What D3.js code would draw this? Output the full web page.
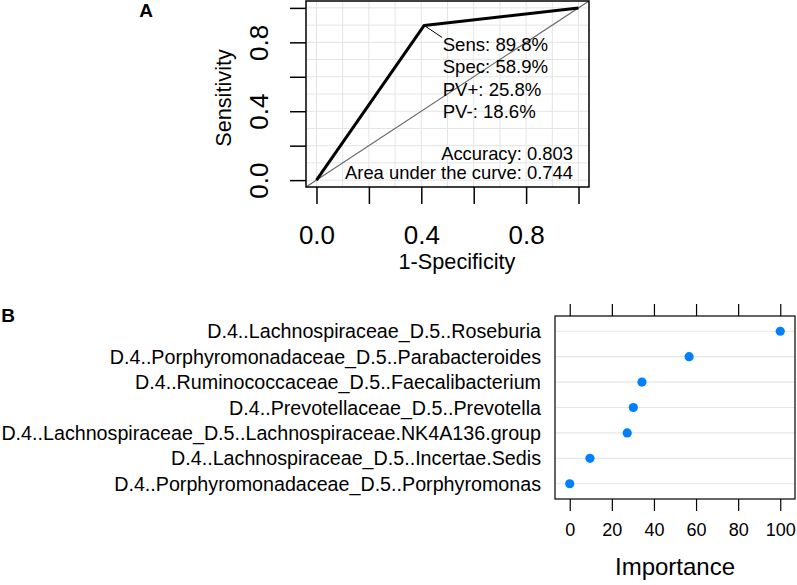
<!doctype html>
<html>
  <head>
    <meta charset="utf-8"/>
    <title>ROC and variable importance</title>
    <style>
      body, html {
        font-family: "Liberation Sans", Arial, sans-serif;
        padding: 0;
        margin: 0;
        background: white;
      }
      svg { display: block; }
      text { font-family: "Liberation Sans", Arial, sans-serif; fill: black; }
    </style>
    <script src="https://d3js.org/d3.v7.min.js"></script>
  </head>
  <body>
    <svg id="chart" width="797" height="585"></svg>

    <script>
      // ROC curve (panel A)
      var rocFpr = [0, 0.411, 1];
      var rocTpr = [0, 0.898, 1];
      var rocTicks = [0, 0.2, 0.4, 0.6, 0.8, 1.0];
      var rocTickLabels = [0, 0.4, 0.8];
      var rocGrid = [0, 0.1, 0.2, 0.3, 0.4, 0.5, 0.6, 0.7, 0.8, 0.9, 1.0];
      var rocStats = ["Sens: 89.8%", "Spec: 58.9%", "PV+: 25.8%", "PV-: 18.6%"];
      var rocSummary = ["Accuracy: 0.803", "Area under the curve: 0.744"];

      // variable importance (panel B)
      var features = [
        "D.4..Lachnospiraceae_D.5..Roseburia",
        "D.4..Porphyromonadaceae_D.5..Parabacteroides",
        "D.4..Ruminococcaceae_D.5..Faecalibacterium",
        "D.4..Prevotellaceae_D.5..Prevotella",
        "D.4..Lachnospiraceae_D.5..Lachnospiraceae.NK4A136.group",
        "D.4..Lachnospiraceae_D.5..Incertae.Sedis",
        "D.4..Porphyromonadaceae_D.5..Porphyromonas"
      ];
      var importance = [100, 56.7, 34.3, 30.2, 27.3, 9.6, 0];
      var impTicks = [0, 20, 40, 60, 80, 100];

      var svg = d3.select("#chart");

      // ---------- panel A ----------
      var x = d3.scaleLinear().domain([-0.04, 1.04]).range([306, 589]);
      var y = d3.scaleLinear().domain([-0.04, 1.04]).range([187, 1]);

      var a = svg.append("g");

      a.selectAll(".vgrid").data(rocGrid).enter().append("line")
        .attr("x1", function(d) { return x(d); })
        .attr("x2", function(d) { return x(d); })
        .attr("y1", y.range()[0]).attr("y2", y.range()[1])
        .attr("stroke", "#e4e4e4").attr("stroke-width", 1);
      a.selectAll(".hgrid").data(rocGrid).enter().append("line")
        .attr("y1", function(d) { return y(d); })
        .attr("y2", function(d) { return y(d); })
        .attr("x1", x.range()[0]).attr("x2", x.range()[1])
        .attr("stroke", "#e4e4e4").attr("stroke-width", 1);

      // chance diagonal
      a.append("line")
        .attr("x1", x(-0.04)).attr("y1", y(-0.04))
        .attr("x2", x(1.04)).attr("y2", y(1.04))
        .attr("stroke", "#666").attr("stroke-width", 1.1);

      var line = d3.line()
        .x(function(d, i) { return x(rocFpr[i]); })
        .y(function(d, i) { return y(rocTpr[i]); });
      a.append("path")
        .datum(rocFpr)
        .attr("d", line)
        .attr("fill", "none")
        .attr("stroke", "black")
        .attr("stroke-width", 3)
        .attr("stroke-linejoin", "round");

      // pointer to the cut-off
      a.append("line")
        .attr("x1", x(rocFpr[1])).attr("y1", y(rocTpr[1]))
        .attr("x2", x(rocFpr[1]) + 18).attr("y2", y(rocTpr[1]) + 12)
        .attr("stroke", "black").attr("stroke-width", 1);

      a.selectAll(".stat").data(rocStats).enter().append("text")
        .attr("x", x(rocFpr[1]) + 18.5)
        .attr("y", function(d, i) { return 51 + i * 22.4; })
        .style("font-size", "18.6px")
        .text(function(d) { return d; });

      a.selectAll(".sum").data(rocSummary).enter().append("text")
        .attr("x", 573)
        .attr("y", function(d, i) { return 160 + i * 19; })
        .attr("text-anchor", "end")
        .style("font-size", "18.4px")
        .text(function(d) { return d; });

      a.append("rect")
        .attr("x", x.range()[0]).attr("y", y.range()[1])
        .attr("width", x.range()[1] - x.range()[0])
        .attr("height", y.range()[0] - y.range()[1])
        .attr("fill", "none").attr("stroke", "black").attr("stroke-width", 1.5);

      var xAxis = d3.axisBottom(x).tickValues(rocTicks).tickSize(17).tickSizeOuter(0)
        .tickFormat(function(d) { return rocTickLabels.indexOf(d) >= 0 ? d3.format(".1f")(d) : ""; });
      var gx = a.append("g").attr("transform", "translate(0," + y.range()[0] + ")").call(xAxis);
      gx.select(".domain").remove();
      gx.selectAll(".tick line").attr("stroke", "black").attr("stroke-width", 1.5);
      gx.selectAll(".tick text").attr("y", 57).attr("dy", 0)
        .style("font-size", "26px").style("font-family", "Liberation Sans");

      var yAxis = d3.axisLeft(y).tickValues(rocTicks).tickSize(16).tickSizeOuter(0)
        .tickFormat(function(d) { return rocTickLabels.indexOf(d) >= 0 ? d3.format(".1f")(d) : ""; });
      var gy = a.append("g").attr("transform", "translate(" + x.range()[0] + ",0)").call(yAxis);
      gy.select(".domain").remove();
      gy.selectAll(".tick line").attr("stroke", "black").attr("stroke-width", 1.5);
      gy.selectAll(".tick text")
        .attr("x", 0).attr("dy", 0)
        .attr("text-anchor", "middle")
        .attr("transform", "translate(-38,0) rotate(-90)")
        .style("font-size", "26px").style("font-family", "Liberation Sans");

      a.append("text")
        .attr("x", 457).attr("y", 269)
        .attr("text-anchor", "middle")
        .style("font-size", "21.7px")
        .text("1-Specificity");
      a.append("text")
        .attr("transform", "translate(231,98) rotate(-90)")
        .attr("text-anchor", "middle")
        .style("font-size", "21.7px")
        .text("Sensitivity");
      a.append("text")
        .attr("x", 146).attr("y", 17)
        .attr("text-anchor", "middle")
        .style("font-size", "19px").style("font-weight", "bold")
        .text("A");

      // ---------- panel B ----------
      var bx = d3.scaleLinear().domain([-7, 107]).range([555, 795]);
      var by = d3.scalePoint().domain(features).range([316, 499]).padding(0.6);

      var b = svg.append("g");

      b.selectAll(".rowline").data(features).enter().append("line")
        .attr("x1", bx.range()[0]).attr("x2", bx.range()[1])
        .attr("y1", function(d) { return by(d); })
        .attr("y2", function(d) { return by(d); })
        .attr("stroke", "#e6e6e6").attr("stroke-width", 1.2);

      b.selectAll(".dot").data(features).enter().append("circle")
        .attr("cx", function(d, i) { return bx(importance[i]); })
        .attr("cy", function(d) { return by(d); })
        .attr("r", 4.6)
        .attr("fill", "#0080ff");

      b.append("rect")
        .attr("x", bx.range()[0]).attr("y", by.range()[0])
        .attr("width", bx.range()[1] - bx.range()[0])
        .attr("height", by.range()[1] - by.range()[0])
        .attr("fill", "none").attr("stroke", "black").attr("stroke-width", 1.2);

      var bAxis = d3.axisBottom(bx).tickValues(impTicks).tickSize(12).tickSizeOuter(0);
      var gbx = b.append("g").attr("transform", "translate(0," + by.range()[1] + ")").call(bAxis);
      gbx.select(".domain").remove();
      gbx.selectAll(".tick line").attr("stroke", "black").attr("stroke-width", 1.2);
      gbx.selectAll(".tick text").attr("y", 36.5).attr("dy", 0)
        .style("font-size", "18px").style("font-family", "Liberation Sans");

      var bTop = d3.axisTop(bx).tickValues(impTicks).tickSize(12).tickSizeOuter(0).tickFormat("");
      var gbt = b.append("g").attr("transform", "translate(0," + by.range()[0] + ")").call(bTop);
      gbt.select(".domain").remove();
      gbt.selectAll(".tick line").attr("stroke", "black").attr("stroke-width", 1.2);

      b.selectAll(".feat").data(features).enter().append("text")
        .attr("x", 541)
        .attr("y", function(d) { return by(d) + 7; })
        .attr("text-anchor", "end")
        .style("font-size", "19.7px")
        .text(function(d) { return d; });

      b.append("text")
        .attr("x", 675).attr("y", 575)
        .attr("text-anchor", "middle")
        .style("font-size", "24px")
        .text("Importance");
      b.append("text")
        .attr("x", 8).attr("y", 322)
        .attr("text-anchor", "middle")
        .style("font-size", "19px").style("font-weight", "bold")
        .text("B");
    </script>
  </body>
</html>
